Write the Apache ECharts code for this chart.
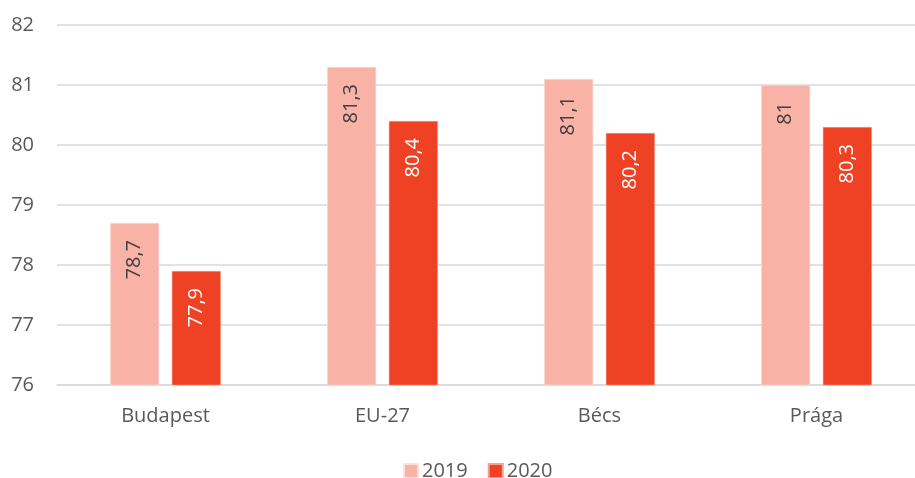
<!DOCTYPE html>
<html>
<head>
<meta charset="utf-8">
<script src="https://cdn.jsdelivr.net/npm/echarts@6/dist/echarts.min.js"></script>
<style>
  html, body { margin: 0; padding: 0; background: #fff; overflow: hidden; width: 915px; height: 478px; }
  #chart { width: 925px; height: 478px; }
</style>
</head>
<body>
<div id="chart"></div>
<script>
// Life expectancy by city, 2019 vs 2020
const categories = ['Budapest', 'EU-27', 'Bécs', 'Prága'];
const seriesNames = ['2019', '2020'];
const values2019 = [78.7, 81.3, 81.1, 81];
const values2020 = [77.9, 80.4, 80.2, 80.3];
const yTicks = [76, 77, 78, 79, 80, 81, 82];

const FONT = '"Open Sans", "Noto Sans", sans-serif';
const TEXT = '#595959';

const fmt = v => String(v).replace('.', ',');

function barLabel(color) {
  return {
    show: true,
    position: 'insideTop',
    rotate: 90,
    align: 'right',
    verticalAlign: 'middle',
    distance: 17,
    fontFamily: FONT,
    fontSize: 20,
    color: color,
    formatter: p => fmt(p.value)
  };
}

// The plot runs slightly past the right edge of the visible page
const chart = echarts.init(document.getElementById('chart'), null, { renderer: 'canvas' });
chart.setOption({
  animation: false,
  textStyle: { fontFamily: FONT },
  grid: { left: 57, top: 25, right: 0, height: 360, containLabel: false },
  legend: {
    data: seriesNames,
    top: 456,
    left: 398,
    itemWidth: 14,
    itemHeight: 14,
    itemGap: 20,
    icon: 'rect',
    textStyle: { fontFamily: FONT, fontSize: 20, color: TEXT, padding: [0, 0, 0, -1] }
  },
  xAxis: {
    type: 'category',
    data: categories,
    axisLine: { show: true, lineStyle: { color: '#D9D9D9', width: 1.5 } },
    axisTick: { show: false },
    axisLabel: { fontFamily: FONT, fontSize: 20, color: TEXT, margin: 21 }
  },
  yAxis: {
    type: 'value',
    min: yTicks[0],
    max: yTicks[yTicks.length - 1],
    interval: 1,
    axisLine: { show: false },
    axisTick: { show: false },
    splitLine: { lineStyle: { color: '#D9D9D9', width: 1.5 } },
    axisLabel: { fontFamily: FONT, fontSize: 20, color: TEXT, margin: 23 }
  },
  series: [
    {
      name: seriesNames[0],
      type: 'bar',
      data: values2019,
      barWidth: 49,
      barGap: '26%',
      itemStyle: { color: '#F8B2A6', borderColor: '#FCE0DB', borderWidth: 0.5 },
      label: barLabel('#404040')
    },
    {
      name: seriesNames[1],
      type: 'bar',
      data: values2020,
      barWidth: 49,
      barGap: '26%',
      itemStyle: { color: '#EF4123', borderColor: '#F7A090', borderWidth: 0.5 },
      label: barLabel('#FFFFFF')
    }
  ]
});
</script>
</body>
</html>
